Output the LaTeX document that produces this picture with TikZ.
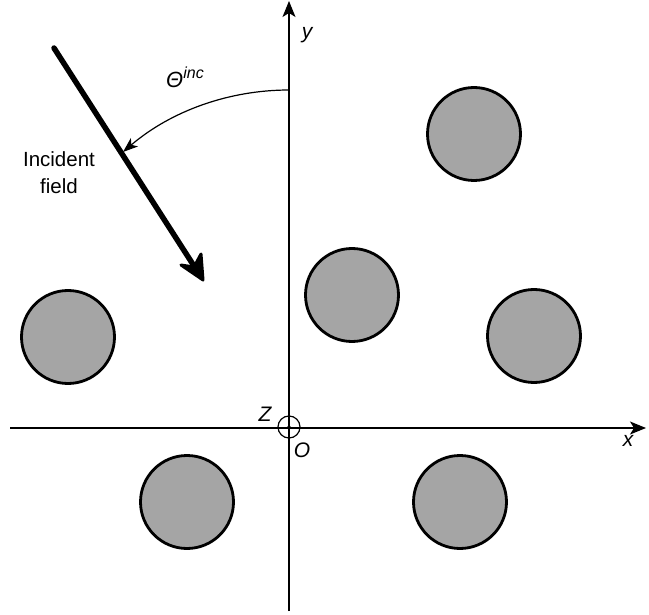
\documentclass[tikz,border=0pt]{standalone}
\usepackage{fontspec}
\setmainfont{Liberation Sans}
\usetikzlibrary{arrows.meta}
\definecolor{scat}{RGB}{165,165,165}
\tikzset{
  scatterer/.style={circle, draw=black, line width=2.8pt, fill=scat, minimum size=93pt, inner sep=0pt},
  axis/.style={line width=1.3pt, -{Stealth[length=16pt,width=13pt,inset=4pt]}},
  lbl/.style={font=\fontsize{21}{24}\selectfont\itshape, inner sep=0pt},
  txt/.style={font=\fontsize{20.5}{27}\selectfont, align=center, inner sep=0pt},
  bighead/.style={fill=black, draw=black, line width=3pt, line join=round}
}
\begin{document}
\begin{tikzpicture}[x=1pt,y=-1pt]
\useasboundingbox (0,0) rectangle (649,615);
% axes
\coordinate (xl) at (10,428);
\coordinate (xr) at (646,428);
\coordinate (yb) at (289,611);
\coordinate (yt) at (289,1);
\draw[axis] (xl) -- (xr);
\draw[axis] (yb) -- (yt);
% origin
\node[circle, draw, line width=1.2pt, minimum size=22pt, inner sep=0pt] (orig) at (289,427) {};
\fill (orig.center) circle (1.8pt);
% scatterers
\node[scatterer] (c1) at (474,134) {};
\node[scatterer] (c2) at (352,295) {};
\node[scatterer] (c3) at (534,336) {};
\node[scatterer] (c4) at (68,337) {};
\node[scatterer] (c5) at (187,502) {};
\node[scatterer] (c6) at (460,502) {};
% labels
\node[lbl] (ly) at (307,35) {y};
\node[lbl] (lx) at (628,441) {x};
\node[lbl] (lz) at (265,414) {Z};
\node[lbl] (lo) at (302,450) {O};
\node[txt] (inc) at (59,173) {Incident\\field};
\node[lbl, anchor=base west] (th) at (166,88) {\fontsize{22}{24}\selectfont Θ\raisebox{0.45em}{\fontsize{16}{16}\selectfont inc}};
% incident field
\coordinate (fs) at (54,48);
\coordinate (fn) at (194,266);
\coordinate (fe) at (203,280);
\draw[line width=5.5pt, line cap=round] (fs) -- (fn);
\path[bighead] (fe) -- ++(-22,-15) -- ++(13,2) -- ++(7,-13) -- cycle;
% angle arc
\coordinate (as) at (289,90);
\coordinate (ae) at (123,152);
\draw[line width=1.2pt, -{Stealth[length=15pt,width=11pt,inset=4pt]}] (as) .. controls (229,90) and (171,111) .. (ae);
\end{tikzpicture}
\end{document}
